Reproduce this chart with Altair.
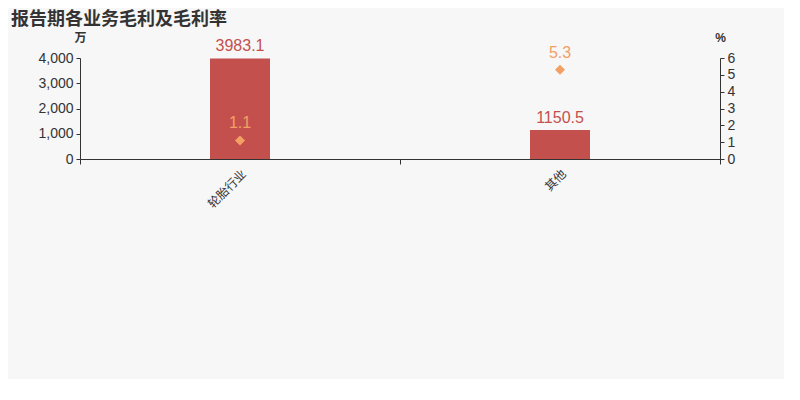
import altair as alt
import pandas as pd

categories = ["轮胎行业", "其他"]
gross_profit = [3983.1, 1150.5]
gross_margin = [1.1, 5.3]

df = pd.DataFrame({"cat": categories, "gp": gross_profit, "gm": gross_margin})

BAR = "#c4504e"
PT = "#f2a064"
FONT = "Liberation Sans, Arial, Noto Sans CJK SC"

x = alt.X("cat:N", sort=categories, title=None,
          scale=alt.Scale(paddingInner=0, paddingOuter=0),
          axis=alt.Axis(labelAngle=-45, labelAlign="right", labelBaseline="top",
                        tickBand="extent", domainColor="#333", tickColor="#333",
                        labelColor="#333", labelFontSize=12, labelFont=FONT,
                        tickSize=5, labelPadding=4))

left_axis = alt.Axis(title="万", titleAngle=0, titleX=0, titleY=-14,
                     titleAlign="center", titleFontSize=12, titleFont=FONT,
                     titleFontWeight="bold", titleColor="#333",
                     values=[0, 1000, 2000, 3000, 4000], grid=False,
                     labelOverlap=False, labelFlush=False,
                     domainColor="#333", tickColor="#333", labelColor="#333",
                     labelFontSize=14, labelFont=FONT, tickSize=4, labelPadding=3)
right_axis = alt.Axis(orient="right", title="%", titleAngle=0, titleX=0, titleY=-14,
                      titleAlign="center", titleFontSize=12, titleFont=FONT,
                      titleFontWeight="bold", titleColor="#333",
                      values=[0, 1, 2, 3, 4, 5, 6], grid=False,
                      labelOverlap=False, labelFlush=False,
                      domainColor="#333", tickColor="#333", labelColor="#333",
                      labelFontSize=14, labelFont=FONT, tickSize=4, labelPadding=3)

y_left = alt.Y("gp:Q", scale=alt.Scale(domain=[0, 4000]), axis=left_axis)
y_right = alt.Y("gm:Q", scale=alt.Scale(domain=[0, 6]), axis=right_axis)

bars = alt.Chart(df).mark_bar(color=BAR, width=60).encode(x=x, y=y_left)
bar_text = alt.Chart(df).mark_text(color=BAR, dy=-12, fontSize=16, font=FONT).encode(
    x=x, y=y_left, text=alt.Text("gp:Q", format=".1f"))

pts = alt.Chart(df).mark_point(shape="diamond", filled=True, color=PT, size=100, opacity=1).encode(
    x=x, y=y_right)
pt_text = alt.Chart(df).mark_text(color=PT, dy=-17, fontSize=16, font=FONT).encode(
    x=x, y=y_right, text=alt.Text("gm:Q", format=".1f"))

left = alt.layer(bars, bar_text)
right = alt.layer(pts, pt_text)

chart = alt.layer(left, right).resolve_scale(y="independent").properties(
    width=640, height=101,
    autosize=alt.AutoSizeParams(type="none"),
    padding={"left": 72, "top": 50, "right": 64, "bottom": 220},
    background="#f7f7f7",
    title=alt.TitleParams("报告期各业务毛利及毛利率", anchor="start", frame="group",
                          dx=-69, dy=-2, fontSize=18, font="Noto Sans CJK SC", fontWeight="bold",
                          color="#333", offset=0),
).configure_view(stroke=None)

chart.save("out.html", embed_options={"renderer": "svg", "actions": False})
